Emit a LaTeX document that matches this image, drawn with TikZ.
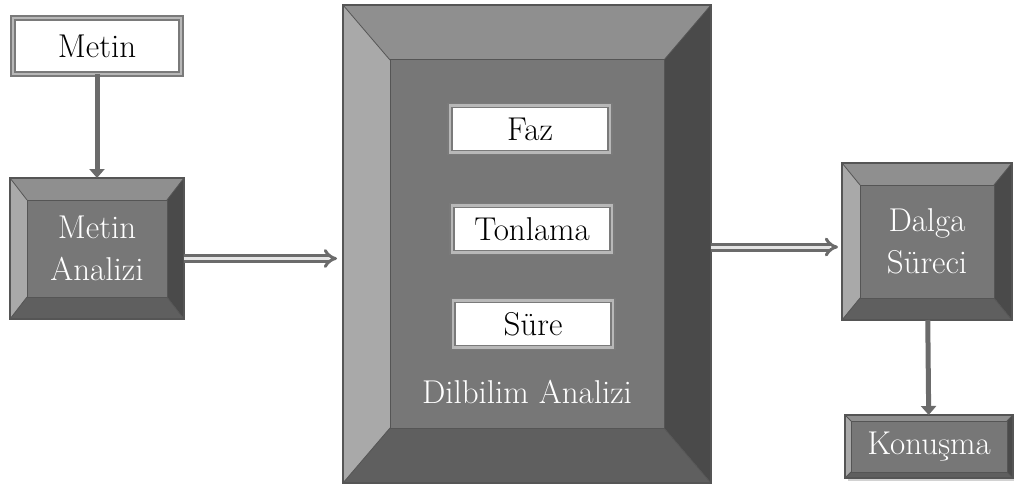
\documentclass[tikz,border=0pt]{standalone}
\usepackage{tikz}
\usetikzlibrary{calc, arrows.meta, backgrounds}
\definecolor{faceTop}{HTML}{8F8F8F}
\definecolor{faceLeft}{HTML}{A9A9A9}
\definecolor{faceMid}{HTML}{777777}
\definecolor{faceRight}{HTML}{4A4A4A}
\definecolor{faceBottom}{HTML}{5F5F5F}
\definecolor{edgeGray}{HTML}{555555}
\definecolor{arrowGray}{HTML}{6B6B6B}
\definecolor{frameGray}{HTML}{7A7A7A}
\definecolor{bandGray}{HTML}{B8B8B8}

% bevelled frame around a node: #1 node, #2 side width, #3 top/bottom width
\newcommand{\bevelbox}[3]{%
  \fill[faceTop] (#1.north west) -- (#1.north east) -- ($(#1.north east)+(-#2,#3)$) -- ($(#1.north west)+(#2,#3)$) -- cycle;
  \fill[faceLeft] (#1.north west) -- ($(#1.north west)+(#2,#3)$) -- ($(#1.south west)+(#2,-#3)$) -- (#1.south west) -- cycle;
  \fill[faceRight] (#1.north east) -- ($(#1.north east)+(-#2,#3)$) -- ($(#1.south east)+(-#2,-#3)$) -- (#1.south east) -- cycle;
  \fill[faceBottom] (#1.south west) -- ($(#1.south west)+(#2,-#3)$) -- ($(#1.south east)+(-#2,-#3)$) -- (#1.south east) -- cycle;
  \fill[faceMid] ($(#1.north west)+(#2,#3)$) rectangle ($(#1.south east)+(-#2,-#3)$);
  \draw[edgeGray, line width=1pt] ($(#1.north west)+(#2,#3)$) rectangle ($(#1.south east)+(-#2,-#3)$);
  \draw[edgeGray, line width=0.8pt]
    (#1.north west) -- ($(#1.north west)+(#2,#3)$)
    (#1.north east) -- ($(#1.north east)+(-#2,#3)$)
    (#1.south east) -- ($(#1.south east)+(-#2,-#3)$)
    (#1.south west) -- ($(#1.south west)+(#2,-#3)$);
  \draw[edgeGray, line width=2.5pt] (#1.north west) rectangle (#1.south east);
}

\begin{document}
\begin{tikzpicture}[x=1pt, y=-1pt,
    every node/.style={font=\fontsize{33}{42}\selectfont, outer sep=0pt},
    whitebox/.style={fill=white, draw=frameGray, line width=1.6pt, double=bandGray,
        double distance=2.5pt, minimum width=160pt, minimum height=47pt, inner sep=0pt},
    bevelnode/.style={text=white, align=center, inner sep=0pt},
    thickarrow/.style={draw=arrowGray, line width=5pt, -{Triangle[width=15pt,length=9pt]}},
    doublearrow/.style={draw=arrowGray, line width=3pt, double=gray!20,
        double distance=3pt, -{Implies}}]
    \useasboundingbox (0,0) rectangle (1014,484);

    \node[whitebox, minimum width=168pt, minimum height=56pt] (metin) at (97,46) {Metin};
    \node[bevelnode, minimum width=174pt, minimum height=141pt] (metinAnalizi) at (97,248.5) {Metin\\Analizi};
    \node[bevelnode, minimum width=368pt, minimum height=478pt] (dilbilim) at (527,244) {};
    \node[whitebox] (faz) at (530,129) {Faz};
    \node[whitebox] (tonlama) at (532,229) {Tonlama};
    \node[whitebox] (sure) at (533,324) {Süre};
    \node[bevelnode] (dilbilimYazi) at (527,392) {Dilbilim Analizi};
    \node[bevelnode, minimum width=170pt, minimum height=157pt] (dalga) at (927,241.5) {Dalga\\Süreci};
    \node[bevelnode, minimum width=168pt, minimum height=63pt] (konusma) at (929,446.5) {Konuşma};

    \begin{scope}[on background layer]
        \fill[gray!35] ($(konusma.north west)+(3,3)$) rectangle ($(konusma.south east)+(2,3)$);
        \bevelbox{metinAnalizi}{17}{22}
        \bevelbox{dilbilim}{47}{55}
        \bevelbox{dalga}{18}{22}
        \bevelbox{konusma}{6}{6}
    \end{scope}

    \draw[thickarrow] (metin) -- (metinAnalizi);
    \draw[thickarrow] (dalga) -- (konusma);
    \draw[doublearrow, shorten >=6pt] ([yshift=-10pt]metinAnalizi.east) -- ([yshift=-10pt]metinAnalizi.east -| dilbilim.west);
    \draw[doublearrow, shorten >=4pt] ([yshift=-3pt]dilbilim.east) -- ([yshift=-3pt]dilbilim.east -| dalga.west);
\end{tikzpicture}
\end{document}
